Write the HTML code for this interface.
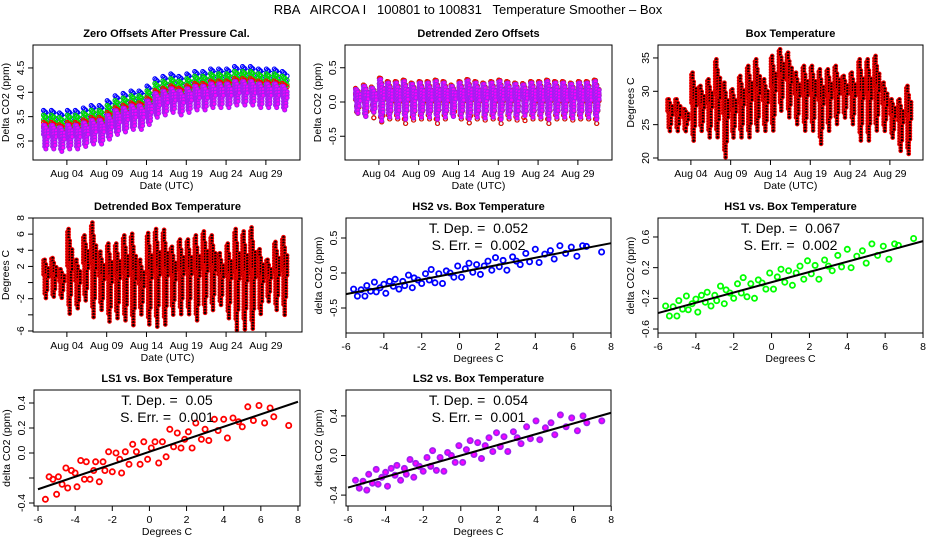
<!DOCTYPE html>
<html><head><meta charset="utf-8">
<style>
html,body{margin:0;padding:0;background:#fff;}
svg{display:block;font-family:"Liberation Sans",sans-serif;}
text{white-space:pre;}
</style></head>
<body>
<svg id="chart" width="936" height="540" viewBox="0 0 936 540" xmlns="http://www.w3.org/2000/svg">
<rect width="936" height="540" fill="#fff"/>
<text x="468" y="14" text-anchor="middle" font-size="13" xml:space="preserve">RBA   AIRCOA I   100801 to 100831   Temperature Smoother – Box</text>
</svg>
<script>
// ---------- data ----------
const days = [1,2,3,4,5,6,7,8,9,10,11,12,13,14,15,16,17,18,19,20,21,22,23,24,25,26,27,28,29,30,31];
const dateTicks = [4,9,14,19,24,29];
const dateTickLabels = ["Aug 04","Aug 09","Aug 14","Aug 19","Aug 24","Aug 29"];
const zeroBase = [3.1,3.1,3.05,3.1,3.1,3.15,3.2,3.2,3.3,3.4,3.45,3.5,3.5,3.6,3.75,3.8,3.85,3.8,3.85,3.9,3.9,3.95,3.95,3.95,4.0,4.0,4.0,3.95,3.95,3.95,3.9];
const seriesNames = ["HS2","HS1","LS1","LS2"];
const seriesLo = [0.1,0.05,-0.05,-0.3];
const seriesHi = [0.55,0.45,0.3,0.25];
const detAmp = [0.2,0.25,0.22,0.35,0.3,0.3,0.32,0.28,0.3,0.3,0.32,0.3,0.25,0.3,0.33,0.3,0.28,0.3,0.32,0.3,0.28,0.27,0.3,0.3,0.32,0.3,0.3,0.28,0.3,0.3,0.32];
const boxLo = [24,24,24,22.5,24,23,23,20,23,23,23,24,24,24,27,26,25,24,24,22,24,25,26,25,22.5,22.5,24,24,23,21,20.5];
const boxHi = [29,29,27.5,33,31,32,35,31.5,30.5,32.5,34,35,32,35.5,36.5,36,33,34,34,33.5,33.5,34,32.5,33,35,35,35.5,31.5,29,29,31];
const detLo = [-2,-2,-2,-4,-3.5,-2.5,-4.5,-3.5,-5,-4.5,-5,-5.5,-4,-5.5,-5.5,-5.5,-4,-4,-4,-5,-4,-3.5,-3,-4.5,-6,-6,-6,-4,-2.5,-3.5,-4];
const detHi = [3,3.2,1.8,6.8,3,6,7.6,4,5,5,6,6.2,3,6.3,6.8,6.7,4.6,5.5,5.5,6,6.5,6,3.8,5,6.8,6.5,7,4.3,3,5.2,5.8];
const tempX = [-5.6,-5.4,-5.2,-5.0,-4.9,-4.7,-4.5,-4.4,-4.2,-4.0,-3.9,-3.7,-3.5,-3.4,-3.2,-3.0,-2.9,-2.7,-2.5,-2.4,-2.2,-2.0,-1.8,-1.6,-1.5,-1.3,-1.1,-0.9,-0.7,-0.5,-0.3,-0.1,0.1,0.3,0.5,0.7,0.9,1.1,1.3,1.5,1.7,1.9,2.1,2.3,2.5,2.8,3.0,3.2,3.5,3.7,4.0,4.2,4.5,4.8,5.0,5.3,5.6,5.9,6.2,6.5,6.7,7.5];
const hs2Y = [-0.23,-0.33,-0.24,-0.33,-0.18,-0.26,-0.13,-0.27,-0.21,-0.16,-0.29,-0.12,-0.19,-0.09,-0.23,-0.12,-0.18,-0.03,-0.21,-0.07,-0.10,-0.15,-0.01,-0.10,0.05,-0.14,-0.01,-0.15,0.03,0.00,-0.06,0.10,-0.06,0.06,0.14,0.01,0.12,-0.02,0.10,0.17,0.04,0.22,0.09,0.18,0.04,0.23,0.17,0.12,0.28,0.16,0.34,0.15,0.27,0.32,0.20,0.39,0.28,0.37,0.24,0.39,0.38,0.30];
const hs1Y = [-0.30,-0.43,-0.31,-0.43,-0.23,-0.34,-0.17,-0.35,-0.27,-0.21,-0.38,-0.16,-0.25,-0.12,-0.30,-0.16,-0.23,-0.04,-0.27,-0.09,-0.13,-0.20,-0.01,-0.13,0.07,-0.18,-0.01,-0.20,0.04,0.00,-0.08,0.13,-0.08,0.08,0.18,0.01,0.16,-0.03,0.13,0.22,0.05,0.29,0.12,0.23,0.05,0.30,0.22,0.16,0.36,0.21,0.44,0.20,0.35,0.42,0.26,0.51,0.36,0.48,0.31,0.51,0.49,0.58];
const ls1Y = [-0.37,-0.19,-0.21,-0.33,-0.19,-0.25,-0.12,-0.28,-0.14,-0.16,-0.27,-0.06,-0.21,-0.07,-0.21,-0.14,-0.07,-0.23,-0.07,-0.14,0.01,-0.15,0.00,-0.05,-0.16,0.01,-0.09,0.07,0.01,-0.09,0.09,-0.05,0.04,0.09,-0.08,0.09,-0.03,0.19,0.05,0.16,0.04,0.11,0.17,0.04,0.24,0.11,0.19,0.10,0.27,0.18,0.27,0.12,0.28,0.25,0.21,0.37,0.26,0.38,0.24,0.36,0.29,0.22];
const ls2Y = [-0.25,-0.33,-0.26,-0.35,-0.19,-0.28,-0.14,-0.29,-0.22,-0.17,-0.31,-0.13,-0.20,-0.10,-0.25,-0.13,-0.19,-0.04,-0.22,-0.08,-0.11,-0.16,-0.02,-0.11,0.05,-0.15,-0.02,-0.16,0.03,0.00,-0.07,0.10,-0.07,0.06,0.15,0.01,0.13,-0.03,0.10,0.18,0.04,0.23,0.09,0.19,0.04,0.24,0.18,0.12,0.29,0.17,0.35,0.16,0.28,0.33,0.21,0.41,0.29,0.38,0.25,0.40,0.33,0.35];
const fitSlope = [0.052,0.067,0.05,0.054];
const fitIntercept = [0.01,0.01,0.01,0.0];
const tDepLabels = ["0.052","0.067","0.05","0.054"];
const sErrLabels = ["0.002","0.002","0.001","0.001"];

// ---------- drawing ----------
const svg = document.getElementById('chart');
const NS = 'http://www.w3.org/2000/svg';
function mk(tag, attrs, parent){
  const e = document.createElementNS(NS, tag);
  for (const k in attrs) e.setAttribute(k, attrs[k]);
  (parent||svg).appendChild(e);
  return e;
}
function panelGroup(name){
  const g = mk('g', {});
  
  
  return g;
}
function txt(g, x, y, s, size, extra){
  const t = mk('text', Object.assign({x:x, y:y, 'font-size':size, 'text-anchor':'middle', fill:'#000'}, extra||{}), g);
  t.textContent = s;
  return t;
}
function pt(g, x, y, col, fill, r, sw){
  return mk('circle', {cx:x.toFixed(1), cy:y.toFixed(1), r:r||2.2, fill:fill||'none', stroke:col, 'stroke-width':sw||1.3}, g);
}
function frame(g, P, title){
  const b = mk('rect', {x:P.L, y:P.T, width:P.R-P.L, height:P.B-P.T, fill:'none', stroke:'#000', 'stroke-width':1}, g);
  
  
  const t = txt(g, (P.L+P.R)/2, P.T-8, title, 11, {'font-weight':'bold'});
  
  
}
function xAxis(g, P, ticks, labels, title){
  ticks.forEach((v,i)=>{
    const x = P.x(v);
    mk('line', {x1:x, y1:P.B, x2:x, y2:P.B+5, stroke:'#000'}, g);
    const t = txt(g, x, P.B+17, labels[i], 10.5);
    
    
  });
  const t = txt(g, (P.L+P.R)/2, P.B+29, title, 10.5);
  
  
}
function yAxis(g, P, ticks, labels, title){
  ticks.forEach((v,i)=>{
    const y = P.y(v);
    mk('line', {x1:P.L-5, y1:y, x2:P.L, y2:y, stroke:'#000'}, g);
    if (labels[i] !== '') {
      const t = txt(g, P.L-9, y, labels[i], 10.5, {transform:`rotate(-90 ${P.L-9} ${y})`});
      
      
    }
  });
  const cx = P.L-24, cy = (P.T+P.B)/2;
  const t = txt(g, cx, cy, title, 10.5, {transform:`rotate(-90 ${cx} ${cy})`});
  
  
}
function dayScale(x0){ return d => x0 + (d-1)*7.96; }
const shapeLo = [0.55,0.1,0.0,0.2,0.5];
const shapeHi = [0.95,1.0,0.85,0.6,0.75];
function band(g, P, d, lo, hi, col, fill, step, r){
  for (let s=0; s<5; s++){
    const x = P.x(d + 0.06 + s*0.15);
    const a = lo + (hi-lo)*shapeLo[s], b = lo + (hi-lo)*shapeHi[s];
    const y1 = P.y(b), y2 = P.y(a);
    const off = (s%2)*step/2;
    for (let y=y1+off; y<=y2+0.1; y+=step) pt(g, x, y, col, fill, r, 1.1);
  }
}
const colors = ['#0000ff','#00e000','#ff0000','#a020f0'];

(function(){
  const g = panelGroup('zero-offsets-panel');
  const P = {L:33,T:45,R:300,B:160, x:dayScale(43), y:v=>141-(v-3.0)*48.7};
  for (let s=0;s<4;s++){
    const sg = mk('g', {}, g);
    
    
    days.forEach((d,i)=> band(sg, P, d, zeroBase[i]+seriesLo[s], zeroBase[i]+seriesHi[s], colors[s], s===3?'#ff00ff':'none', s===3?3:4.5, 2));
  }
  frame(g, P, 'Zero Offsets After Pressure Cal.');
  xAxis(g, P, dateTicks, dateTickLabels, 'Date (UTC)');
  yAxis(g, P, [3.0,3.5,4.0,4.5], ['3.0','3.5','4.0','4.5'], 'Delta CO2 (ppm)');
})();

(function(){
  const g = panelGroup('detrended-zero-offsets-panel');
  const P = {L:345,T:45,R:612,B:160, x:dayScale(355), y:v=>102-v*68.5};
  for (let s=0;s<4;s++){
    const sg = mk('g', {}, g);
    
    
    days.forEach((d,i)=> band(sg, P, d, -detAmp[i]*(s===3?0.85:1.05), detAmp[i]*(s===3?1.0:1.1), colors[s], s===3?'#ff00ff':'none', s===3?3:5.5, 2));
  }
  frame(g, P, 'Detrended Zero Offsets');
  xAxis(g, P, dateTicks, dateTickLabels, 'Date (UTC)');
  yAxis(g, P, [-0.5,0,0.5], ['-0.5','0.0','0.5'], 'Delta CO2 (ppm)');
})();

(function(){
  const g = panelGroup('box-temperature-panel');
  const P = {L:658,T:45,R:923,B:160, x:dayScale(667), y:v=>158-(v-20)*6.67};
  days.forEach((d,i)=> band(g, P, d, boxLo[i], boxHi[i], '#ee0000', '#000', 2.8, 1.8));
  frame(g, P, 'Box Temperature');
  xAxis(g, P, dateTicks, dateTickLabels, 'Date (UTC)');
  yAxis(g, P, [20,25,30,35], ['20','25','30','35'], 'Degrees C');
})();

(function(){
  const g = panelGroup('detrended-box-temperature-panel');
  const P = {L:33,T:218,R:302,B:332, x:dayScale(43), y:v=>218+(8-v)*8.07};
  days.forEach((d,i)=> band(g, P, d, detLo[i], detHi[i], '#ee0000', '#000', 2.8, 1.8));
  frame(g, P, 'Detrended Box Temperature');
  xAxis(g, P, dateTicks, dateTickLabels, 'Date (UTC)');
  yAxis(g, P, [-6,-4,-2,0,2,4,6,8], ['-6','','-2','','2','4','6','8'], 'Degrees C');
})();

function scatter(name, title, P, ys, idx, col, fill, yt, ytl){
  const g = panelGroup(name);
  const pg = mk('g', {}, g);
  
  
  tempX.forEach((x,i)=> pt(pg, P.x(x), P.y(ys[i]), col, fill, 2.6, 1.8));
  const xa = -6, xb = 8;
  const ln = mk('line', {x1:P.x(xa), y1:P.y(fitIntercept[idx]+fitSlope[idx]*xa), x2:P.x(xb), y2:P.y(fitIntercept[idx]+fitSlope[idx]*xb), stroke:'#000', 'stroke-width':2}, g);
  
  
  const cx = (P.L+P.R)/2;
  const t1 = txt(g, cx, P.T+15, 'T. Dep. =  '+tDepLabels[idx], 14);
  
  
  const t2 = txt(g, cx, P.T+32, 'S. Err. =  '+sErrLabels[idx], 14);
  
  
  frame(g, P, title);
  xAxis(g, P, [-6,-4,-2,0,2,4,6,8], ['-6','-4','-2','0','2','4','6','8'], 'Degrees C');
  yAxis(g, P, yt, ytl, 'delta CO2 (ppm)');
}
scatter('hs2-vs-box-temp-panel','HS2 vs. Box Temperature',
  {L:346,T:218,R:611,B:333, x:v=>346+(v+6)*18.93, y:v=>273-v*70}, hs2Y, 0, '#0000ff', 'none',
  [-0.5,0,0.5], ['-0.5','0.0','0.5']);
scatter('hs1-vs-box-temp-panel','HS1 vs. Box Temperature',
  {L:658,T:218,R:923,B:333, x:v=>658+(v+6)*18.93, y:v=>283-v*76.7}, hs1Y, 1, '#00ff00', 'none',
  [-0.6,-0.2,0.2,0.6], ['-0.6','-0.2','0.2','0.6']);
scatter('ls1-vs-box-temp-panel','LS1 vs. Box Temperature',
  {L:34,T:390,R:300,B:506, x:v=>38+(v+6)*18.57, y:v=>453-v*125}, ls1Y, 2, '#ff0000', 'none',
  [-0.4,-0.2,0,0.2,0.4], ['-0.4','','0.0','0.2','0.4']);
scatter('ls2-vs-box-temp-panel','LS2 vs. Box Temperature',
  {L:346,T:390,R:611,B:506, x:v=>348+(v+6)*18.8, y:v=>455.5-v*99}, ls2Y, 3, '#a020f0', '#ff00ff',
  [-0.4,0,0.4], ['-0.4','0.0','0.4']);
</script>
</body></html>
